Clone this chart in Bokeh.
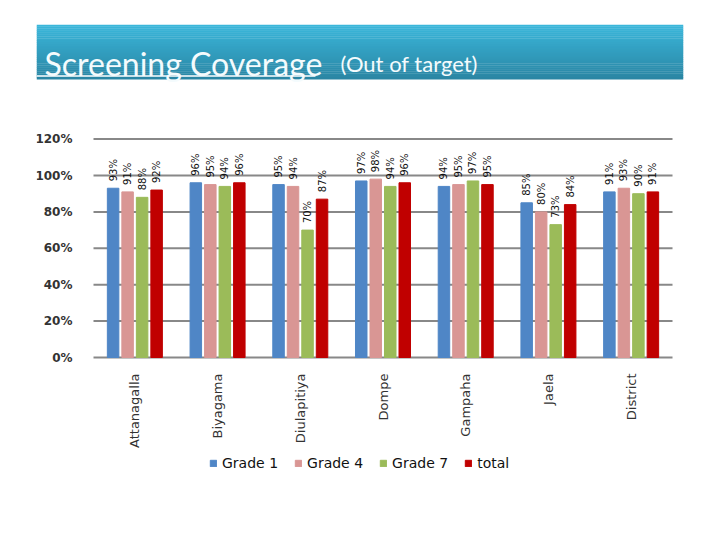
import math
from bokeh.plotting import figure
from bokeh.models import (ColumnDataSource, Range1d, FixedTicker, LinearAxis,
                          NumeralTickFormatter, Legend, LegendItem)
from bokeh.core.properties import value
from bokeh.embed import file_html
from bokeh.resources import INLINE

# ---------------- data ----------------
categories = ["Attanagalla", "Biyagama", "Diulapitiya", "Dompe", "Gampaha", "Jaela", "District"]
grade1 = [93, 96, 95, 97, 94, 85, 91]
grade4 = [91, 95, 94, 98, 95, 80, 93]
grade7 = [88, 94, 70, 94, 97, 73, 90]
total = [92, 96, 87, 96, 95, 84, 91]
series_names = ["Grade 1", "Grade 4", "Grade 7", "total"]
series_values = [grade1, grade4, grade7, total]
series_colors = ["#4f86c6", "#d99694", "#9bbb59", "#c00000"]
y_ticks = [0, 0.2, 0.4, 0.6, 0.8, 1.0, 1.2]
title_main = "Screening Coverage"
title_sub = "(Out of target)"

# ---------------- layout constants (page pixels) ----------------
W, H = 720, 540
FRAME_L, FRAME_R, FRAME_T, FRAME_B = 36, 683, 24, 502      # whole drawing area
PLOT_L, PLOT_R = 93, 672                                    # category span
Y0_PX, PX_PER_UNIT = 357, 182.0                             # 0% line, px per 100%
ncat = len(categories)
px_per_cat = (PLOT_R - PLOT_L) / ncat

x_start = (FRAME_L - PLOT_L) / px_per_cat
x_end = ncat + (FRAME_R - PLOT_R) / px_per_cat
y_start = -(FRAME_B - Y0_PX) / PX_PER_UNIT
y_end = (Y0_PX - FRAME_T) / PX_PER_UNIT

p = figure(width=W, height=H, x_range=Range1d(x_start, x_end), y_range=Range1d(y_start, y_end),
           toolbar_location=None, output_backend="svg", x_axis_type=None, y_axis_type=None,
           min_border_left=FRAME_L, min_border_right=W - FRAME_R,
           min_border_top=FRAME_T, min_border_bottom=H - FRAME_B,
           outline_line_color=None)
p.extra_x_ranges = {"px": Range1d(FRAME_L, FRAME_R)}
p.extra_y_ranges = {"px": Range1d(FRAME_B, FRAME_T)}
p.xgrid.visible = False
p.ygrid.visible = False

# ---------------- banner ----------------
top_c = (0x3a, 0xb6, 0xda)
bot_c = (0x2a, 0x86, 0xa4)
b_top, b_bot = 24.0, 78.5
n = 28
tops, bots, cols = [], [], []
for i in range(n):
    t = i / (n - 1)
    c = tuple(int(round(top_c[k] + (bot_c[k] - top_c[k]) * t)) for k in range(3))
    tops.append(b_top + (b_bot - b_top) * i / n)
    bots.append(b_top + (b_bot - b_top) * (i + 1) / n + 0.4)
    cols.append("#%02x%02x%02x" % c)
p.quad(left=[36] * n, right=[683] * n, top=tops, bottom=bots, fill_color=cols, line_color=None,
       x_range_name="px", y_range_name="px")
p.segment(x0=[36], y0=[75.5], x1=[315], y1=[75.5], line_color="white", line_width=1.5,
          x_range_name="px", y_range_name="px")
p.text(x=[44], y=[63], text=[title_main], text_font=value("Lato"), text_font_size="32px",
       text_color="#f4fbfd", text_baseline="alphabetic", text_align="left",
       x_range_name="px", y_range_name="px")
p.text(x=[340], y=[63], text=[title_sub], text_font=value("Lato"), text_font_size="22px",
       text_color="#f4fbfd", text_baseline="alphabetic", text_align="left",
       x_range_name="px", y_range_name="px")

# ---------------- grid lines ----------------
p.segment(x0=[0] * len(y_ticks), x1=[ncat] * len(y_ticks), y0=y_ticks, y1=y_ticks,
          line_color="#888888", line_width=2)

# ---------------- bars ----------------
centers = [i + 0.5 for i in range(ncat)]
offsets = [-0.263, -0.0877, 0.0877, 0.263]
bw = 11.5 / px_per_cat
renderers = []
for name, vals, off, color in zip(series_names, series_values, offsets, series_colors):
    src = ColumnDataSource(dict(x=[c + off for c in centers], top=[v / 100 for v in vals],
                                lab=[f"{v}%" for v in vals]))
    r = p.vbar(x="x", top="top", width=bw, source=src, fill_color=color, line_color=color)
    renderers.append(r)
    p.text(x="x", y="top", text="lab", source=src, angle=math.pi / 2, text_align="left",
           text_baseline="middle", y_offset=-7, text_font=value("DejaVu Sans"),
           text_font_size="10px", text_color="#111111")

# ---------------- axes ----------------
yaxis = LinearAxis(ticker=FixedTicker(ticks=y_ticks), formatter=NumeralTickFormatter(format="0%"),
                   fixed_location=0)
yaxis.axis_line_color = None
yaxis.major_tick_line_color = None
yaxis.minor_tick_line_color = None
yaxis.major_label_text_font = "DejaVu Sans"
yaxis.major_label_text_font_size = "12px"
yaxis.major_label_text_font_style = "bold"
yaxis.major_label_text_color = "#333333"
yaxis.major_label_standoff = 15
p.add_layout(yaxis, "left")

xaxis = LinearAxis(ticker=FixedTicker(ticks=centers),
                   major_label_overrides={c: nm for c, nm in zip(centers, categories)},
                   fixed_location=0)
xaxis.axis_line_color = None
xaxis.major_tick_line_color = None
xaxis.minor_tick_line_color = None
xaxis.major_label_orientation = math.pi / 2
xaxis.major_label_text_font = "DejaVu Sans"
xaxis.major_label_text_font_size = "13px"
xaxis.major_label_text_color = "#333333"
xaxis.major_label_standoff = 10
p.add_layout(xaxis, "below")

legend = Legend(items=[LegendItem(label=nm, renderers=[r]) for nm, r in zip(series_names, renderers)],
                orientation="horizontal", location=(209 - FRAME_L, FRAME_B - 471),
                glyph_width=8, glyph_height=8, label_standoff=5, spacing=16, padding=0, margin=0,
                border_line_color=None, background_fill_alpha=0, label_text_font="DejaVu Sans",
                label_text_font_size="14px", label_text_color="#111111")
p.add_layout(legend)

open("out.html", "w").write(file_html(p, INLINE))
